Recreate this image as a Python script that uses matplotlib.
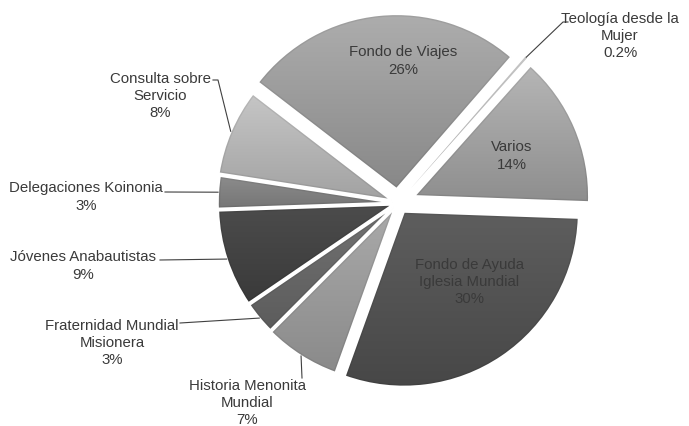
import numpy as np
import matplotlib
matplotlib.use("Agg")
import matplotlib.pyplot as plt
from matplotlib.patches import Wedge
from matplotlib.colors import LinearSegmentedColormap

# ---- data ----
categories = ["Varios", "Teología desde la\nMujer", "Fondo de Viajes",
              "Consulta sobre\nServicio", "Delegaciones Koinonia",
              "Jóvenes Anabautistas", "Fraternidad Mundial\nMisionera",
              "Historia Menonita\nMundial", "Fondo de Ayuda\nIglesia Mundial"]
values = [14, 0.2, 26, 8, 3, 9, 3, 7, 30]
pct_labels = ["14%", "0.2%", "26%", "8%", "3%", "9%", "3%", "7%", "30%"]

# ---- style ----
explode = [0.10, 0.11, 0.08, 0.04, 0.03, 0.03, 0.03, 0.035, 0.06]
top_colors = ["#b6b6b6", "#d4d4d4", "#adadad", "#c6c6c6", "#8c8c8c",
              "#4c4c4c", "#727272", "#aaaaaa", "#5e5e5e"]
bot_colors = ["#8e8e8e", "#b8b8b8", "#888888", "#a2a2a2", "#757575",
              "#3a3a3a", "#5c5c5c", "#8a8a8a", "#474747"]
edge_widths = [1.5, 0.0, 1.5, 1.5, 1.5, 1.5, 1.5, 1.5, 1.5]
text_color = "#3a3a3a"
FONT = ["Liberation Sans", "DejaVu Sans"]
FS = 10.8

W, H = 689, 426
CX, CY, R = 398, 203, 175  # pie centre / radius in pixels


def px(x, y):
    return ((x - CX) / R, (CY - y) / R)


fig = plt.figure(figsize=(W / 100, H / 100), dpi=100)
ax = fig.add_axes([0, 0, 1, 1])

wedges, _ = ax.pie(values, explode=explode, startangle=-2, counterclock=True,
                   radius=1.0, colors=top_colors,
                   wedgeprops=dict(edgecolor="white", linewidth=1.5))

grad = np.linspace(0, 1, 256).reshape(-1, 1)
for w, c0, c1, lw in zip(wedges, top_colors, bot_colors, edge_widths):
    ext = w.get_path().get_extents()
    cmap = LinearSegmentedColormap.from_list("g", [c0, c1])
    im = ax.imshow(grad, cmap=cmap, aspect="auto", origin="upper",
                   extent=(ext.x0, ext.x1, ext.y0, ext.y1), zorder=2,
                   interpolation="bilinear")
    im.set_clip_path(w)
    # soft darker rim (inner bevel)
    rim = Wedge(w.center, w.r, w.theta1, w.theta2, facecolor="none",
                edgecolor="#000000", linewidth=3.5, alpha=0.07, zorder=2.5)
    ax.add_patch(rim)
    rim.set_clip_path(w)
    w.set_facecolor("none")
    w.set_linewidth(lw)
    w.set_zorder(3)

# inner labels
inner = {2: (403, 61), 0: (512, 156), 8: (469, 282)}
for i, (x, y) in inner.items():
    ax.text(*px(x, y), categories[i] + "\n" + pct_labels[i],
            ha="center", va="center", multialignment="center",
            fontsize=FS, color=text_color, family=FONT, linespacing=1.3,
            zorder=5)

# outer labels with leader lines: text centre, stub points
outer = {
    1: ((620, 36), [(568, 22), (563, 22)]),
    3: ((160, 96), [(213, 80), (218, 80)]),
    4: ((86, 197), [(165, 192)]),
    5: ((83, 266), [(160, 260)]),
    6: ((112, 343), [(180, 323)]),
    7: ((247, 403), [(302, 378)]),
}
for i, ((x, y), stub) in outer.items():
    ax.text(*px(x, y), categories[i] + "\n" + pct_labels[i],
            ha="center", va="center", multialignment="center",
            fontsize=FS, color=text_color, family=FONT, linespacing=1.3,
            zorder=5)
    w = wedges[i]
    mid = np.deg2rad((w.theta1 + w.theta2) / 2)
    ex, ey = w.center[0] + w.r * np.cos(mid), w.center[1] + w.r * np.sin(mid)
    pts = [px(*p) for p in stub] + [(ex, ey)]
    xs, ys = zip(*pts)
    ax.plot(xs, ys, color="#404040", linewidth=0.8, zorder=4)

ax.set_xlim(-CX / R, (W - CX) / R)
ax.set_ylim(-(H - CY) / R, CY / R)
ax.set_aspect("auto")
ax.axis("off")
fig.savefig("out.png", dpi=100, facecolor="white")
